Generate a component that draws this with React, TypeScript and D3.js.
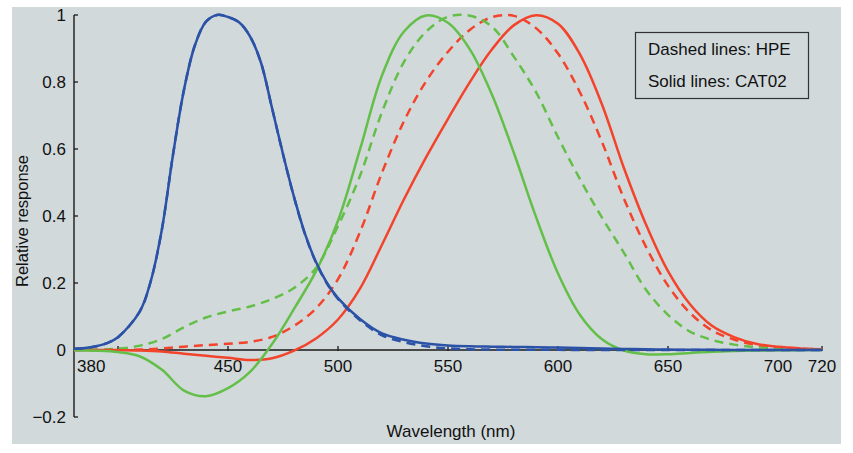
import React from 'react';
import * as d3 from 'd3';

// Wavelengths (nm), 10 nm steps
const wavelengths = [380, 390, 400, 410, 420, 430, 440, 450, 460, 470, 480, 490, 500, 510, 520, 530, 540, 550, 560, 570, 580, 590, 600, 610, 620, 630, 640, 650, 660, 670, 680, 690, 700, 710, 720];
// Finer wavelengths for the blue (short-wave) curves
const blueWavelengths = [380, 385, 390, 395, 400, 410, 415, 420, 425, 430, 435, 440, 445, 450, 455, 460, 465, 470, 475, 480, 485, 490, 495, 500, 510, 520, 530, 540, 550, 560, 570, 580, 590, 600, 610, 620, 630, 640, 650, 660, 670, 680, 690, 700, 710, 720];

// Solid lines: CAT02
const cat02Red = [0.0, -0.0001, -0.0003, -0.0012, -0.0043, -0.0111, -0.0173, -0.0233, -0.0299, -0.0249, -0.0021, 0.0346, 0.0911, 0.183, 0.3143, 0.4499, 0.5748, 0.6902, 0.8004, 0.8976, 0.9698, 0.9996, 0.9739, 0.8824, 0.733, 0.5425, 0.3744, 0.2355, 0.1365, 0.0722, 0.0386, 0.0187, 0.0094, 0.0048, 0.0024];
const cat02Green = [-0.0006, -0.0019, -0.0063, -0.0193, -0.0592, -0.1211, -0.1379, -0.1138, -0.0653, 0.0175, 0.1226, 0.2353, 0.3857, 0.5986, 0.8195, 0.9506, 0.9987, 0.9767, 0.8968, 0.762, 0.5873, 0.3973, 0.2285, 0.1047, 0.0321, -0.0016, -0.0128, -0.0126, -0.0088, -0.0051, -0.0029, -0.0014, -0.0007, -0.0004, -0.0002];
const cat02Blue = [0.0036, 0.0059, 0.0112, 0.0203, 0.0381, 0.1163, 0.2083, 0.3621, 0.5828, 0.7772, 0.9104, 0.98, 1.0, 0.9942, 0.9785, 0.9365, 0.8575, 0.7228, 0.5851, 0.4569, 0.3468, 0.2624, 0.2001, 0.155, 0.0926, 0.0495, 0.0306, 0.0193, 0.0134, 0.0109, 0.0099, 0.0092, 0.0082, 0.0072, 0.0058, 0.0045, 0.0032, 0.0021, 0.0013, 0.0008, 0.0004, 0.0002, 0.0001, 0, 0, 0];

// Dashed lines: HPE
const hpeRed = [0.0001, 0.0002, 0.0005, 0.0015, 0.0045, 0.01, 0.0147, 0.0185, 0.0243, 0.0391, 0.072, 0.1243, 0.2117, 0.3522, 0.5294, 0.6831, 0.8017, 0.8902, 0.9561, 0.9935, 0.9973, 0.9608, 0.8849, 0.7688, 0.6209, 0.4514, 0.3077, 0.1921, 0.1108, 0.0585, 0.0312, 0.0151, 0.0076, 0.0039, 0.0019];
const hpeGreen = [0, 0.001, 0.004, 0.013, 0.033, 0.068, 0.097, 0.115, 0.13, 0.152, 0.185, 0.245, 0.37, 0.52, 0.71, 0.86, 0.95, 0.995, 0.998, 0.965, 0.875, 0.77, 0.635, 0.51, 0.395, 0.29, 0.18, 0.105, 0.055, 0.03, 0.016, 0.008, 0.004, 0.002, 0.001];
const hpeBlue = [0.0036, 0.0059, 0.0112, 0.0203, 0.0381, 0.1163, 0.2083, 0.3622, 0.5829, 0.7773, 0.9104, 0.9801, 1.0, 0.9941, 0.9784, 0.9364, 0.8572, 0.7223, 0.5845, 0.4561, 0.3457, 0.261, 0.1982, 0.1526, 0.0887, 0.0439, 0.0237, 0.0114, 0.0049, 0.0022, 0.0012, 0.0009, 0.0006, 0.0004, 0.0002, 0.0001, 0, 0, 0, 0, 0, 0, 0, 0, 0, 0];

const xTickValues = [400, 450, 500, 550, 600, 650, 700, 720];
const xLabelValues = [380, 450, 500, 550, 600, 650, 700, 720];
const yTickValues = [-0.2, 0, 0.2, 0.4, 0.6, 0.8, 1];
const yTickLabels = ['\u22120.2', '0', '0.2', '0.4', '0.6', '0.8', '1'];
const legendLines = ['Dashed lines: HPE', 'Solid lines: CAT02'];
const xTitle = 'Wavelength (nm)';
const yTitle = 'Relative response';

const RED = '#f4432b';
const GREEN = '#64bf48';
const BLUE = '#2b52a6';
const BG = '#d1d9db';
const FONT = '"Liberation Sans", Arial, Helvetica, sans-serif';

export default function App() {
  const x = d3.scaleLinear().domain([380, 720]).range([74, 822]);
  const y = d3.scaleLinear().domain([-0.2, 1]).range([417, 15]);
  const makeLine = (wl: number[]) =>
    d3
      .line<number>()
      .x((_, i) => x(wl[i]))
      .y((d) => y(d))
      .curve(d3.curveCatmullRom.alpha(0.5));

  const series = [
    { values: hpeRed, wl: wavelengths, color: RED, dashed: true },
    { values: hpeGreen, wl: wavelengths, color: GREEN, dashed: true },
    { values: cat02Red, wl: wavelengths, color: RED, dashed: false },
    { values: cat02Green, wl: wavelengths, color: GREEN, dashed: false },
    { values: hpeBlue, wl: blueWavelengths, color: BLUE, dashed: true },
    { values: cat02Blue, wl: blueWavelengths, color: BLUE, dashed: false },
  ];

  const y0 = y(0);
  return (
    <svg width={853} height={453} style={{ position: 'absolute', left: 0, top: 0 }} fontFamily={FONT}>
      <rect x={12} y={7} width={829} height={437} fill={BG} />
      {/* axes */}
      <line x1={x(380)} x2={x(380)} y1={y(1)} y2={y(-0.2)} stroke="#1a1a1a" strokeWidth={1.4} />
      <line x1={x(380)} x2={x(720)} y1={y0} y2={y0} stroke="#1a1a1a" strokeWidth={1.4} />
      {yTickValues.map((v, i) => (
        <g key={'yt' + i}>
          <line x1={x(380)} x2={x(380) + 4} y1={y(v)} y2={y(v)} stroke="#1a1a1a" strokeWidth={1.3} />
          <text x={66} y={y(v) + 6} textAnchor="end" fontSize={17} fill="#111">
            {yTickLabels[i]}
          </text>
        </g>
      ))}
      {xTickValues.map((v) => (
        <line key={'xt' + v} x1={x(v)} x2={x(v)} y1={y0 - 4} y2={y0 + 1} stroke="#1a1a1a" strokeWidth={1.3} />
      ))}
      {xLabelValues.map((v) => (
        <text
          key={'xl' + v}
          x={v === 380 ? x(v) + 3 : x(v)}
          y={y0 + 21.5}
          textAnchor={v === 380 ? 'start' : 'middle'}
          fontSize={17}
          fill="#111"
        >
          {v}
        </text>
      ))}
      {/* curves */}
      {series.map((s, i) => (
        <path
          key={'s' + i}
          d={makeLine(s.wl)(s.values) || ''}
          fill="none"
          stroke={s.color}
          strokeWidth={2.5}
          strokeDasharray={s.dashed ? '9,6' : undefined}
        />
      ))}
      {/* titles */}
      <text x={451} y={437} textAnchor="middle" fontSize={17} fill="#111">
        {xTitle}
      </text>
      <text transform="translate(28,221) rotate(-90)" textAnchor="middle" fontSize={16.5} fill="#111">
        {yTitle}
      </text>
      {/* legend */}
      <rect x={635.5} y={32.5} width={173} height={66} fill={BG} stroke="#333" strokeWidth={1.2} />
      {legendLines.map((t, i) => (
        <text key={'lg' + i} x={648} y={54.5 + i * 32.5} fontSize={17} fill="#111">
          {t}
        </text>
      ))}
    </svg>
  );
}
